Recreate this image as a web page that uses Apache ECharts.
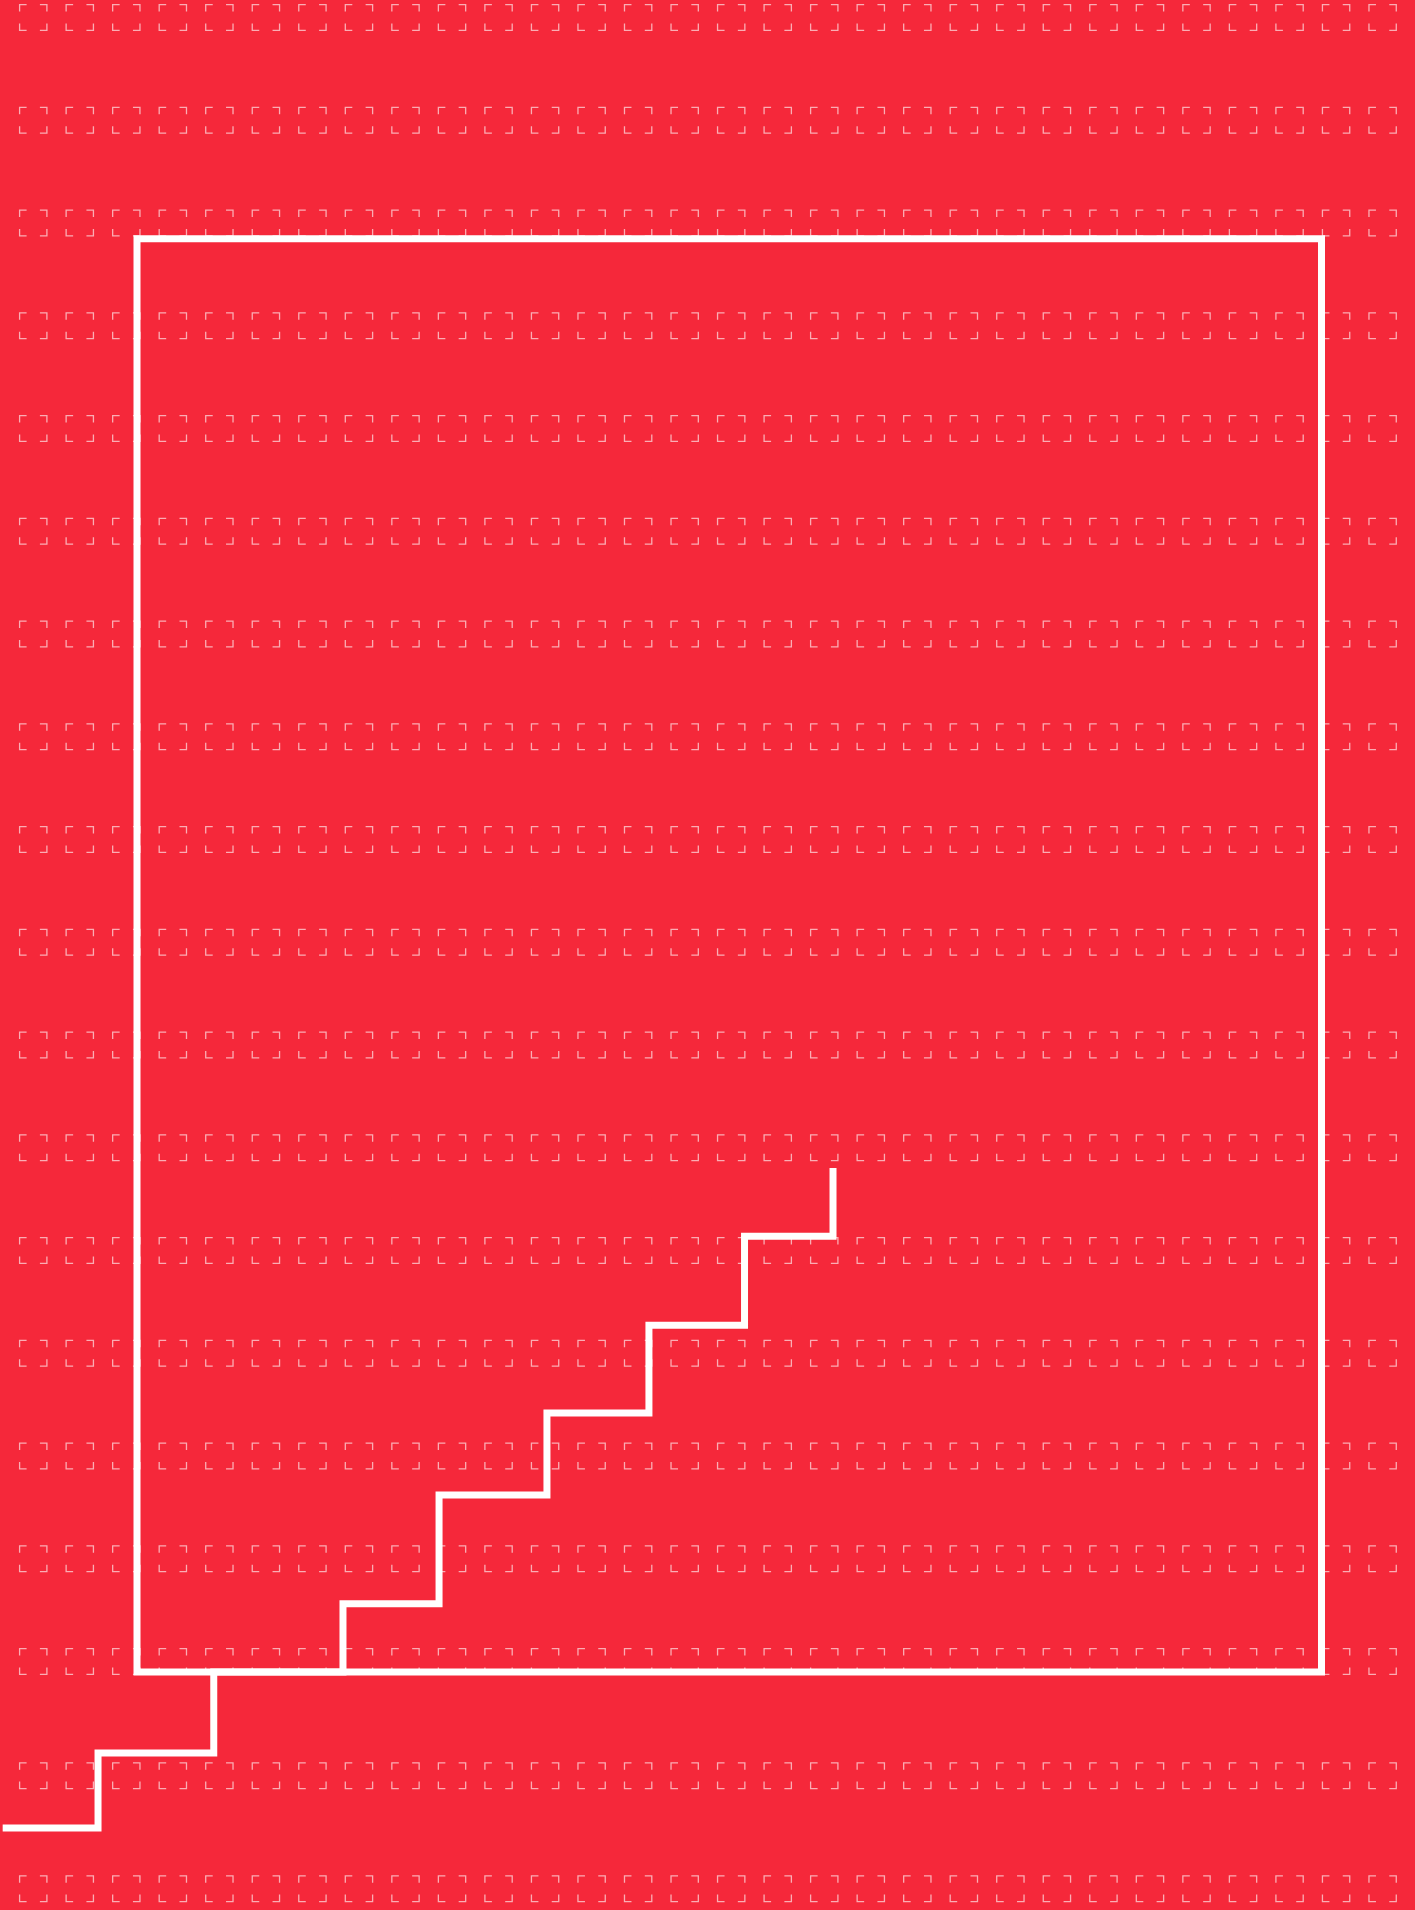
<!DOCTYPE html>
<html><head><meta charset="utf-8">
<script src="https://cdn.jsdelivr.net/npm/echarts@6/dist/echarts.min.js"></script>
<style>html,body{margin:0;padding:0;background:#f5283a}#c{width:1415px;height:1910px}</style>
</head><body><div id="c"></div>
<script>
// step line values (axis units: 0..100 spans the white frame in both directions)
const stepX = [-11.34, -3.29, 6.48, 17.39, 25.50, 34.61, 43.22, 51.29, 58.76];
const stepY = [-10.88, -5.65, 0, 4.77, 12.35, 18.07, 24.19, 30.40, 35.16];

const W = 1415, H = 1910;
const frame = {left: 137, top: 238.7, right: 93.5, bottom: 238};

function makeBackground() {
  const c = document.createElement('canvas');
  c.width = W; c.height = H;
  const ctx = c.getContext('2d');
  ctx.fillStyle = '#f5283a';
  ctx.fillRect(0, 0, W, H);
  ctx.strokeStyle = 'rgba(255,255,255,0.62)';
  ctx.lineWidth = 1.3;
  const rows = [];
  for (let i = 0; i < 17; i++) rows.push(4.6 + 102.75 * i);
  rows.push(1762.8, 1875.8);
  const w = 27.3, h = 25.8, a = 7;
  for (const y0 of rows) for (let i = 0; i < 30; i++) {
    const x0 = 19.6 + 46.53 * i;
    ctx.beginPath();
    ctx.moveTo(x0, y0 + a); ctx.lineTo(x0, y0); ctx.lineTo(x0 + a, y0);
    ctx.moveTo(x0 + w - a, y0); ctx.lineTo(x0 + w, y0); ctx.lineTo(x0 + w, y0 + a);
    ctx.moveTo(x0, y0 + h - a); ctx.lineTo(x0, y0 + h); ctx.lineTo(x0 + a, y0 + h);
    ctx.moveTo(x0 + w - a, y0 + h); ctx.lineTo(x0 + w, y0 + h); ctx.lineTo(x0 + w, y0 + h - a);
    ctx.stroke();
  }
  return c;
}

// full-canvas grid whose axes keep the same 0..100 units as the frame
const fw = W - frame.left - frame.right, fh = H - frame.top - frame.bottom;
const ux = fw / 100, uy = fh / 100;
const xMin = -frame.left / ux, xMax = 100 + frame.right / ux;
const yMin = -frame.bottom / uy, yMax = 100 + frame.top / uy;

const chart = echarts.init(document.getElementById('c'), null, {renderer: 'canvas'});
chart.setOption({
  backgroundColor: {image: makeBackground(), repeat: 'no-repeat'},
  animation: false,
  grid: [
    {left: frame.left, top: frame.top, right: frame.right, bottom: frame.bottom, show: true, borderColor: '#fff', borderWidth: 7, backgroundColor: 'transparent'},
    {left: 0, top: 0, right: 0, bottom: 0, show: false}
  ],
  xAxis: [
    {gridIndex: 0, type: 'value', min: 0, max: 100, show: false},
    {gridIndex: 1, type: 'value', min: xMin, max: xMax, show: false}
  ],
  yAxis: [
    {gridIndex: 0, type: 'value', min: 0, max: 100, show: false},
    {gridIndex: 1, type: 'value', min: yMin, max: yMax, show: false}
  ],
  series: [{
    type: 'line', step: 'end', xAxisIndex: 1, yAxisIndex: 1, symbol: 'none', showSymbol: false,
    data: stepX.map((x, i) => [x, stepY[i]]),
    lineStyle: {color: '#fff', width: 7, cap: 'butt', join: 'miter'},
    z: 3
  }]
});
</script></body></html>
